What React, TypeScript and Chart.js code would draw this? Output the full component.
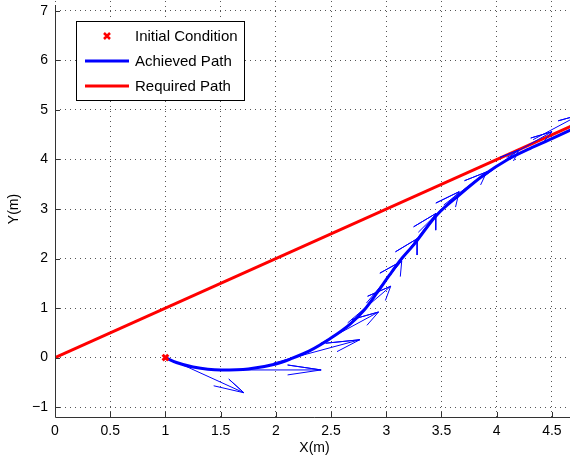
import React, { useEffect, useRef } from "react";
import { Chart, registerables } from "chart.js";

Chart.register(...registerables);

// ---- Data ----
const xTicks = [0, 0.5, 1, 1.5, 2, 2.5, 3, 3.5, 4, 4.5];
const yTicks = [-1, 0, 1, 2, 3, 4, 5, 6, 7];

const initialX = [1];
const initialY = [0];

const requiredX = [0, 5];
const requiredY = [0, 5];

const achievedX = [1.0, 1.1, 1.25, 1.5, 1.75, 2.0, 2.13, 2.3, 2.49, 2.67, 2.8, 2.91, 3.03, 3.14, 3.25, 3.45, 3.66, 3.88, 4.1, 4.3, 4.5, 4.75];
const achievedY = [0, -0.1, -0.19, -0.25, -0.23, -0.13, -0.03, 0.13, 0.38, 0.67, 0.96, 1.29, 1.67, 2.0, 2.28, 2.86, 3.28, 3.68, 4.0, 4.22, 4.42, 4.68];

// quiver arrows: tail positions and vectors
const arrowX = [1.09, 1.49, 1.98, 2.4, 2.65, 2.82, 2.98, 3.14, 3.29, 3.52, 3.87, 4.09, 4.33];
const arrowY = [-0.08, -0.25, -0.11, 0.28, 0.7, 1.1, 1.5, 1.99, 2.53, 3.08, 3.63, 4.04, 4.4];
const arrowU = [0.62, 0.92, 0.78, 0.53, 0.39, 0.32, 0.3, 0.31, 0.37, 0.39, 0.33, 0.41, 0.42];
const arrowV = [-0.63, 0.0, 0.47, 0.64, 0.74, 0.85, 0.9, 0.92, 0.82, 0.67, 0.56, 0.52, 0.5];

const legendLabels = ["Initial Condition", "Achieved Path", "Required Path"];

const FONT = "'Liberation Sans', Arial, Helvetica, sans-serif";
const BLUE = "#0000ff";
const RED = "#ff0000";

function quiverPoints(x: number, y: number, u: number, v: number) {
  const a = 0.33;
  const b = 0.33;
  const tx = x + u;
  const ty = y + v;
  return [
    { x, y },
    { x: tx, y: ty },
    { x: tx - a * (u + b * v), y: ty - a * (v - b * u) },
    { x: tx, y: ty },
    { x: tx - a * (u - b * v), y: ty - a * (v + b * u) },
  ];
}

const minus = (v: number) => (v < 0 ? "\u2212" + Math.abs(v) : String(v));

const axesPlugin = {
  id: "matlabAxes",
  afterDraw(chart: any) {
    const { ctx, chartArea, scales } = chart;
    const { left, bottom, top, right } = chartArea;
    ctx.save();
    ctx.strokeStyle = "#333333";
    ctx.lineWidth = 1;
    ctx.beginPath();
    ctx.moveTo(left + 0.5, top + 4);
    ctx.lineTo(left + 0.5, bottom + 0.5);
    ctx.lineTo(right, bottom + 0.5);
    ctx.stroke();
    // inward ticks
    ctx.beginPath();
    xTicks.forEach((t) => {
      const px = Math.round(scales.x.getPixelForValue(t)) + 0.5;
      ctx.moveTo(px, bottom);
      ctx.lineTo(px, bottom - 5);
    });
    yTicks.forEach((t) => {
      const py = Math.round(scales.y.getPixelForValue(t)) + 0.5;
      ctx.moveTo(left, py);
      ctx.lineTo(left + 5, py);
    });
    ctx.stroke();

    // legend
    const bx = 76.5, by = 21.5, bw = 168, bh = 79;
    ctx.fillStyle = "#ffffff";
    ctx.fillRect(bx, by, bw, bh);
    ctx.strokeStyle = "#000000";
    ctx.lineWidth = 1;
    ctx.strokeRect(bx, by, bw, bh);
    const rows = [36, 61, 86];
    ctx.font = "15px " + FONT;
    ctx.textBaseline = "middle";
    ctx.textAlign = "left";
    ctx.fillStyle = "#000000";
    rows.forEach((ry, i) => {
      if (i === 0) {
        ctx.strokeStyle = RED;
        ctx.lineWidth = 2.5;
        ctx.beginPath();
        const cx = 107, s = 3;
        ctx.moveTo(cx - s, ry - s);
        ctx.lineTo(cx + s, ry + s);
        ctx.moveTo(cx + s, ry - s);
        ctx.lineTo(cx - s, ry + s);
        ctx.stroke();
      } else {
        ctx.strokeStyle = i === 1 ? BLUE : RED;
        ctx.lineWidth = 3;
        ctx.beginPath();
        ctx.moveTo(85, ry);
        ctx.lineTo(129, ry);
        ctx.stroke();
      }
      ctx.fillStyle = "#000000";
      ctx.fillText(legendLabels[i], 135, ry + 1);
    });
    ctx.restore();
  },
};

export default function App() {
  const ref = useRef<HTMLCanvasElement | null>(null);

  useEffect(() => {
    document.body.style.margin = "0";
    if (!ref.current) return;

    const arrowSets = arrowX.map((x, i) => ({
      label: "",
      data: quiverPoints(x, arrowY[i], arrowU[i], arrowV[i]),
      showLine: true,
      borderColor: BLUE,
      borderWidth: 1,
      pointRadius: 0,
      tension: 0,
      fill: false,
    }));

    const chart = new Chart(ref.current, {
      type: "scatter",
      data: {
        datasets: [
          {
            label: legendLabels[0],
            data: initialX.map((x, i) => ({ x, y: initialY[i] })),
            pointStyle: "crossRot",
            pointRadius: 4,
            pointBorderWidth: 3,
            borderColor: RED,
            backgroundColor: RED,
            showLine: false,
          },
          ...arrowSets,
          {
            label: legendLabels[2],
            data: requiredX.map((x, i) => ({ x, y: requiredY[i] })),
            showLine: true,
            borderColor: RED,
            borderWidth: 3,
            pointRadius: 0,
          },
          {
            label: legendLabels[1],
            data: achievedX.map((x, i) => ({ x, y: achievedY[i] })),
            showLine: true,
            borderColor: BLUE,
            borderWidth: 3,
            pointRadius: 0,
            tension: 0.35,
            cubicInterpolationMode: "monotone",
          },
        ] as any,
      },
      options: {
        animation: false,
        responsive: false,
        layout: { autoPadding: false, padding: { top: 1, left: 0, right: 0, bottom: 0 } },
        plugins: { legend: { display: false }, tooltip: { enabled: false } },
        scales: {
          x: {
            type: "linear",
            min: 0,
            max: 4.7,
            afterBuildTicks: (s: any) => {
              s.ticks = xTicks.map((v) => ({ value: v }));
            },
            afterFit: (s: any) => {
              s.height = 41;
              s.paddingLeft = 0;
              s.paddingRight = 0;
            },
            ticks: {
              callback: (v: any) => minus(Number(v)),
              font: { family: FONT, size: 14 },
              color: "#000000",
              padding: 6,
              maxRotation: 0,
              autoSkip: false,
            },
            grid: { color: "#555555", lineWidth: 1, drawTicks: false },
            border: { display: false, dash: [1, 4] },
            title: {
              display: true,
              text: "X(m)",
              font: { family: FONT, size: 14 },
              color: "#000000",
              padding: { top: 0, bottom: 1 },
            },
          },
          y: {
            type: "linear",
            min: -1.2,
            max: 7.2,
            afterBuildTicks: (s: any) => {
              s.ticks = yTicks.map((v) => ({ value: v }));
            },
            afterFit: (s: any) => {
              s.width = 55;
              s.paddingTop = 0;
              s.paddingBottom = 0;
            },
            ticks: {
              callback: (v: any) => minus(Number(v)),
              font: { family: FONT, size: 14 },
              color: "#000000",
              padding: 7,
              autoSkip: false,
            },
            grid: { color: "#555555", lineWidth: 1, drawTicks: false },
            border: { display: false, dash: [1, 4] },
            title: {
              display: true,
              text: "Y(m)",
              font: { family: FONT, size: 14 },
              color: "#000000",
              padding: { top: 6, bottom: 0 },
            },
          },
        },
      },
      plugins: [axesPlugin],
    });
    return () => chart.destroy();
  }, []);

  return (
    <div style={{ width: 570, height: 458, overflow: "hidden", background: "#fff" }}>
      <canvas ref={ref} width={574} height={458} style={{ display: "block", width: 574, height: 458 }} />
    </div>
  );
}
